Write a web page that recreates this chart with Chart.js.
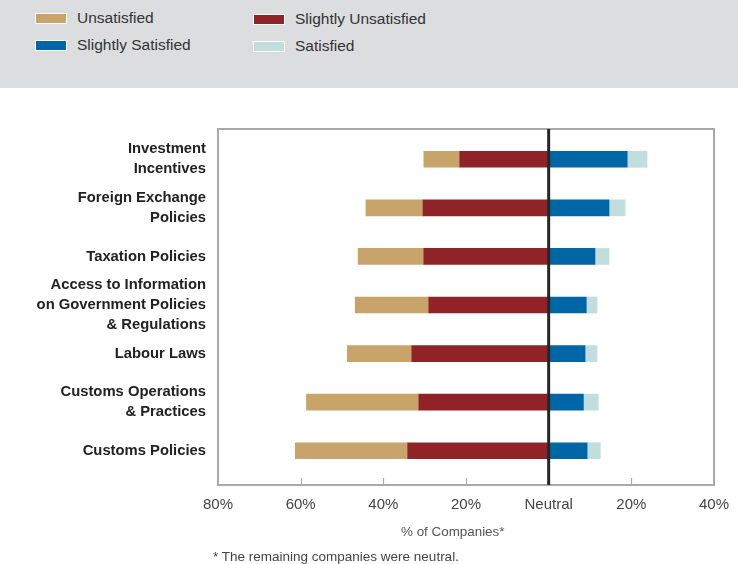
<!DOCTYPE html>
<html>
<head>
<meta charset="utf-8">
<script src="https://cdn.jsdelivr.net/npm/chart.js@4.4.1/dist/chart.umd.min.js"></script>
<style>
  body { margin: 0; background: #fff; width: 738px; height: 564px; position: relative; overflow: hidden; }
  #header { position: absolute; left: 0; top: 0; width: 738px; height: 88px; background: #dcdddf; }
  .item { position: absolute; display: flex; align-items: center; font: 15.5px "Liberation Sans", Arial, sans-serif; color: #333; }
  .swatch { width: 32px; height: 11px; box-sizing: border-box; border: 1px solid #fff; margin-right: 10px; }
  #wrap { position: absolute; left: 0; top: 88px; width: 738px; height: 476px; }
  #axisTitle { position: absolute; left: 401px; top: 524px; font: 13.4px "Liberation Sans", Arial, sans-serif; color: #555; }
  #note { position: absolute; left: 213px; top: 549px; font: 13.5px "Liberation Sans", Arial, sans-serif; color: #444; }
</style>
</head>
<body>
<div id="header"></div>
<div id="wrap"><canvas id="chartSatisfaction" width="738" height="476"></canvas></div>
<div id="axisTitle">% of Companies*</div>
<div id="note">* The remaining companies were neutral.</div>
<script>
const categories = [
  ["Investment", "Incentives"],
  ["Foreign Exchange", "Policies"],
  ["Taxation Policies"],
  ["Access to Information", "on Government Policies", "& Regulations"],
  ["Labour Laws"],
  ["Customs Operations", "& Practices"],
  ["Customs Policies"]
];

// % of companies per rating (negative side drawn to the left of Neutral)
const unsatisfied = [8.7, 13.8, 15.9, 17.8, 15.6, 27.2, 27.2];
const slightlyUnsatisfied = [21.5, 30.4, 30.2, 29.0, 33.1, 31.4, 34.1];
const slightlySatisfied = [19.0, 14.6, 11.2, 9.1, 8.8, 8.4, 9.3];
const satisfied = [4.8, 3.9, 3.4, 2.6, 2.9, 3.6, 3.2];

const xTicks = [-80, -60, -40, -20, 0, 20, 40];

const colors = {
  unsatisfied: "#c8a46a",
  slightlyUnsatisfied: "#8f2328",
  slightlySatisfied: "#0066a6",
  satisfied: "#c2dddd"
};

// legend in the grey header, two columns
const legendItems = [
  { label: "Unsatisfied", color: colors.unsatisfied, left: 35, top: 9 },
  { label: "Slightly Unsatisfied", color: colors.slightlyUnsatisfied, left: 253, top: 10 },
  { label: "Slightly Satisfied", color: colors.slightlySatisfied, left: 35, top: 36 },
  { label: "Satisfied", color: colors.satisfied, left: 253, top: 37 }
];
const header = document.getElementById("header");
legendItems.forEach((it) => {
  const el = document.createElement("div");
  el.className = "item";
  el.style.left = it.left + "px";
  el.style.top = it.top + "px";
  el.innerHTML = '<span class="swatch" style="background:' + it.color + '"></span>' + it.label;
  header.appendChild(el);
});

const neg = (arr) => arr.map((v) => -v);

// frame, bottom tick marks and the neutral line
const framePlugin = {
  id: "frame",
  afterDatasetsDraw(chart) {
    const { ctx, chartArea, scales } = chart;
    const x = scales.x;
    const left = x.getPixelForValue(-80);
    const right = x.getPixelForValue(40);
    const top = chartArea.top - 6;
    const bottom = chartArea.bottom + 10;
    ctx.save();
    ctx.strokeStyle = "#a9a9ab";
    ctx.lineWidth = 2;
    ctx.strokeRect(left, top, right - left, bottom - top);
    ctx.lineWidth = 1.2;
    [-60, -40, -20, 20].forEach((v) => {
      const px = Math.round(x.getPixelForValue(v)) + 0.5;
      ctx.beginPath();
      ctx.moveTo(px, bottom);
      ctx.lineTo(px, bottom - 7);
      ctx.stroke();
    });
    const zero = x.getPixelForValue(0);
    ctx.strokeStyle = "#262626";
    ctx.lineWidth = 3;
    ctx.beginPath();
    ctx.moveTo(zero, top);
    ctx.lineTo(zero, bottom);
    ctx.stroke();
    ctx.restore();
  }
};

new Chart(document.getElementById("chartSatisfaction"), {
  type: "bar",
  data: {
    labels: categories,
    datasets: [
      { label: "Slightly Unsatisfied", data: neg(slightlyUnsatisfied), backgroundColor: colors.slightlyUnsatisfied },
      { label: "Unsatisfied", data: neg(unsatisfied), backgroundColor: colors.unsatisfied },
      { label: "Slightly Satisfied", data: slightlySatisfied, backgroundColor: colors.slightlySatisfied },
      { label: "Satisfied", data: satisfied, backgroundColor: colors.satisfied }
    ]
  },
  options: {
    indexAxis: "y",
    responsive: false,
    devicePixelRatio: 1,
    animation: false,
    barThickness: 16,
    layout: { padding: { top: 47, right: 24, left: 0, bottom: 0 } },
    plugins: {
      legend: { display: false },
      tooltip: { enabled: false }
    },
    scales: {
      x: {
        stacked: true,
        min: -80,
        max: 40,
        afterFit: (s) => { s.height = 89; s.paddingLeft = 0; s.paddingRight = 0; },
        afterBuildTicks: (s) => { s.ticks = xTicks.map((v) => ({ value: v })); },
        grid: { display: false, drawTicks: false },
        border: { display: false },
        ticks: {
          padding: 21,
          color: "#444",
          font: { family: "'Liberation Sans', Arial, sans-serif", size: 15 },
          maxRotation: 0,
          autoSkip: false,
          callback: (v) => (v === 0 ? "Neutral" : Math.abs(v) + "%")
        }
      },
      y: {
        stacked: true,
        afterFit: (s) => { s.width = 218; },
        grid: { display: false, drawTicks: false },
        border: { display: false },
        ticks: {
          padding: 12,
          autoSkip: false,
          color: "#222",
          font: { family: "'Liberation Sans', Arial, sans-serif", size: 14.8, weight: "bold", lineHeight: 1.35 }
        }
      }
    }
  },
  plugins: [framePlugin]
});
</script>
</body>
</html>
